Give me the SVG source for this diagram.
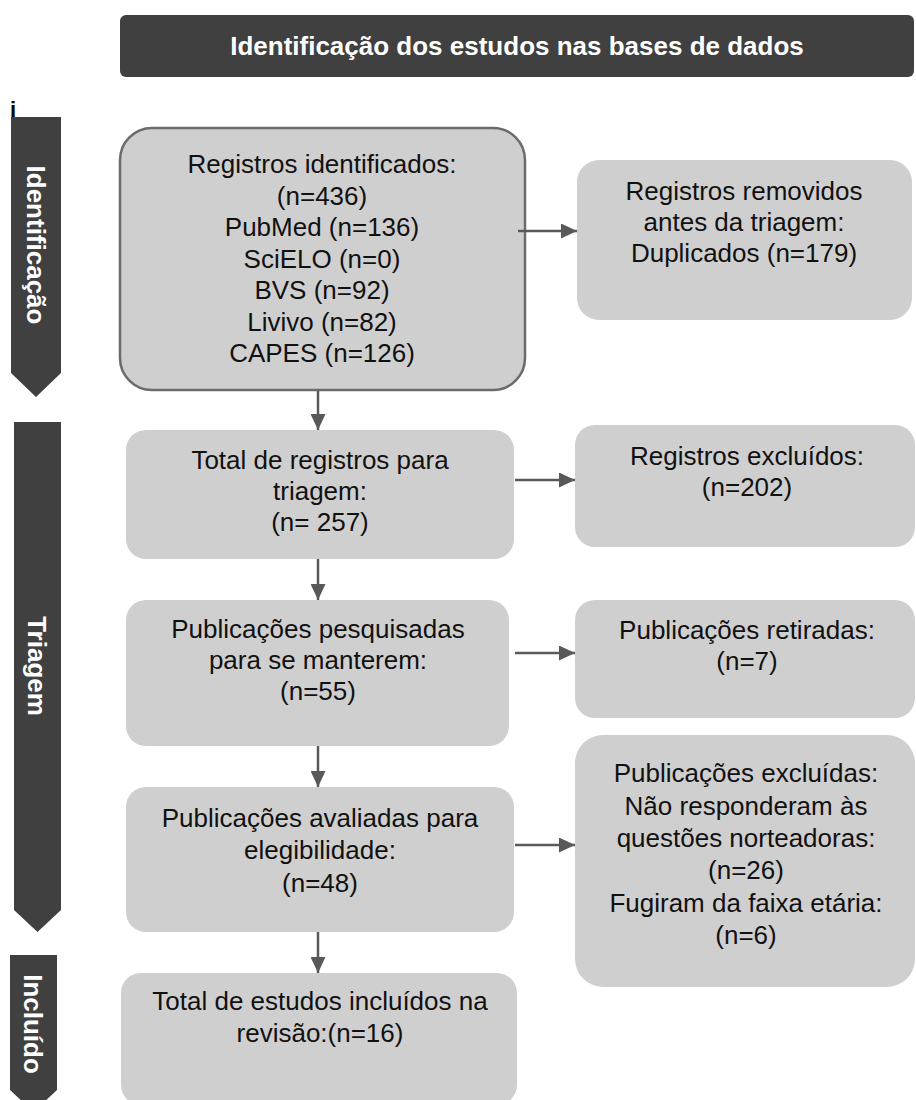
<svg xmlns="http://www.w3.org/2000/svg" width="916" height="1100" viewBox="0 0 916 1100">
<style>
.box{fill:#d0cfd0}
.box1{fill:#d0cfd0;stroke:#6b6b6b;stroke-width:2.5}
.band{fill:#404040}
.t{font-family:"Liberation Sans",Arial,sans-serif;font-size:26px;fill:#111;text-anchor:middle}
.bt{font-family:"Liberation Sans",Arial,sans-serif;font-size:26px;font-weight:bold;fill:#fff;text-anchor:middle}
.conn{stroke:#595959;stroke-width:2.5;fill:none;marker-end:url(#ah)}
</style>
<defs>
<marker id="ah" markerUnits="userSpaceOnUse" markerWidth="16" markerHeight="15" refX="16" refY="7.5" orient="auto">
<path d="M0,0 L16,7.5 L0,15 Z" fill="#595959"/>
</marker>
</defs>
<rect width="916" height="1100" fill="#fff"/>

<g id="header">
<rect x="120" y="15" width="794" height="62" rx="6" class="band"/>
<text x="517" y="55" class="bt">Identificação dos estudos nas bases de dados</text>
</g>

<text x="10" y="117" style="font-family:'Liberation Sans',Arial,sans-serif;font-size:22px;font-weight:bold;fill:#000">i</text>

<g id="band-identificacao">
<path d="M11,117 H61 V373 L36,397 L11,373 Z" class="band"/>
<text transform="translate(27,245) rotate(90)" class="bt">Identificação</text>
</g>
<g id="band-triagem">
<path d="M14,422 H61 V910 L37.5,932 L14,910 Z" class="band"/>
<text transform="translate(28,666) rotate(90)" class="bt">Triagem</text>
</g>
<g id="band-incluido">
<path d="M10,955 H57 V1090 L33.5,1112 L10,1090 Z" class="band"/>
<text transform="translate(24,1024) rotate(90)" class="bt">Incluído</text>
</g>

<g id="n-identificados">
<rect x="120" y="128" width="405" height="262" rx="32" class="box1"/>
<text class="t"><tspan x="322" y="173">Registros identificados:</tspan><tspan x="322" y="204.5">(n=436)</tspan><tspan x="322" y="236">PubMed (n=136)</tspan><tspan x="322" y="267.5">SciELO (n=0)</tspan><tspan x="322" y="299">BVS (n=92)</tspan><tspan x="322" y="330.5">Livivo (n=82)</tspan><tspan x="322" y="362">CAPES (n=126)</tspan></text>
</g>

<g id="n-removidos">
<rect x="577" y="160" width="335" height="160" rx="22" class="box"/>
<text class="t"><tspan x="744" y="200">Registros removidos</tspan><tspan x="744" y="231">antes da triagem:</tspan><tspan x="744" y="262">Duplicados (n=179)</tspan></text>
</g>

<g id="n-triagem">
<rect x="126" y="430" width="388" height="129" rx="20" class="box"/>
<text class="t"><tspan x="320" y="469">Total de registros para</tspan><tspan x="320" y="500">triagem:</tspan><tspan x="320" y="531">(n= 257)</tspan></text>
</g>

<g id="n-excluidos">
<rect x="575" y="425" width="340" height="122" rx="20" class="box"/>
<text class="t"><tspan x="747" y="465">Registros excluídos:</tspan><tspan x="747" y="496">(n=202)</tspan></text>
</g>

<g id="n-pesquisadas">
<rect x="126" y="600" width="383" height="146" rx="20" class="box"/>
<text class="t"><tspan x="318" y="638">Publicações pesquisadas</tspan><tspan x="318" y="669">para se manterem:</tspan><tspan x="318" y="700">(n=55)</tspan></text>
</g>

<g id="n-retiradas">
<rect x="575" y="600" width="340" height="118" rx="20" class="box"/>
<text class="t"><tspan x="747" y="639">Publicações retiradas:</tspan><tspan x="747" y="670">(n=7)</tspan></text>
</g>

<g id="n-avaliadas">
<rect x="126" y="787" width="388" height="145" rx="20" class="box"/>
<text class="t"><tspan x="320" y="827">Publicações avaliadas para</tspan><tspan x="320" y="859">elegibilidade:</tspan><tspan x="320" y="892">(n=48)</tspan></text>
</g>

<g id="n-excluidas">
<rect x="575" y="735" width="340" height="252" rx="28" class="box"/>
<text class="t"><tspan x="746" y="782">Publicações excluídas:</tspan><tspan x="746" y="815">Não responderam às</tspan><tspan x="746" y="847">questões norteadoras:</tspan><tspan x="746" y="879">(n=26)</tspan><tspan x="746" y="912">Fugiram da faixa etária:</tspan><tspan x="746" y="944">(n=6)</tspan></text>
</g>

<g id="n-incluidos">
<rect x="121" y="973" width="396" height="132" rx="20" class="box"/>
<text class="t"><tspan x="320" y="1010">Total de estudos incluídos na</tspan><tspan x="320" y="1042">revisão:(n=16)</tspan></text>
</g>

<g id="connectors">
<line x1="518" y1="231" x2="577" y2="231" class="conn"/>
<line x1="515" y1="480" x2="575" y2="480" class="conn"/>
<line x1="515" y1="653" x2="575" y2="653" class="conn"/>
<line x1="515" y1="845" x2="575" y2="845" class="conn"/>
<line x1="318" y1="391" x2="318" y2="430" class="conn"/>
<line x1="318" y1="559" x2="318" y2="600" class="conn"/>
<line x1="318" y1="746" x2="318" y2="787" class="conn"/>
<line x1="318" y1="932" x2="318" y2="973" class="conn"/>
</g>
</svg>
